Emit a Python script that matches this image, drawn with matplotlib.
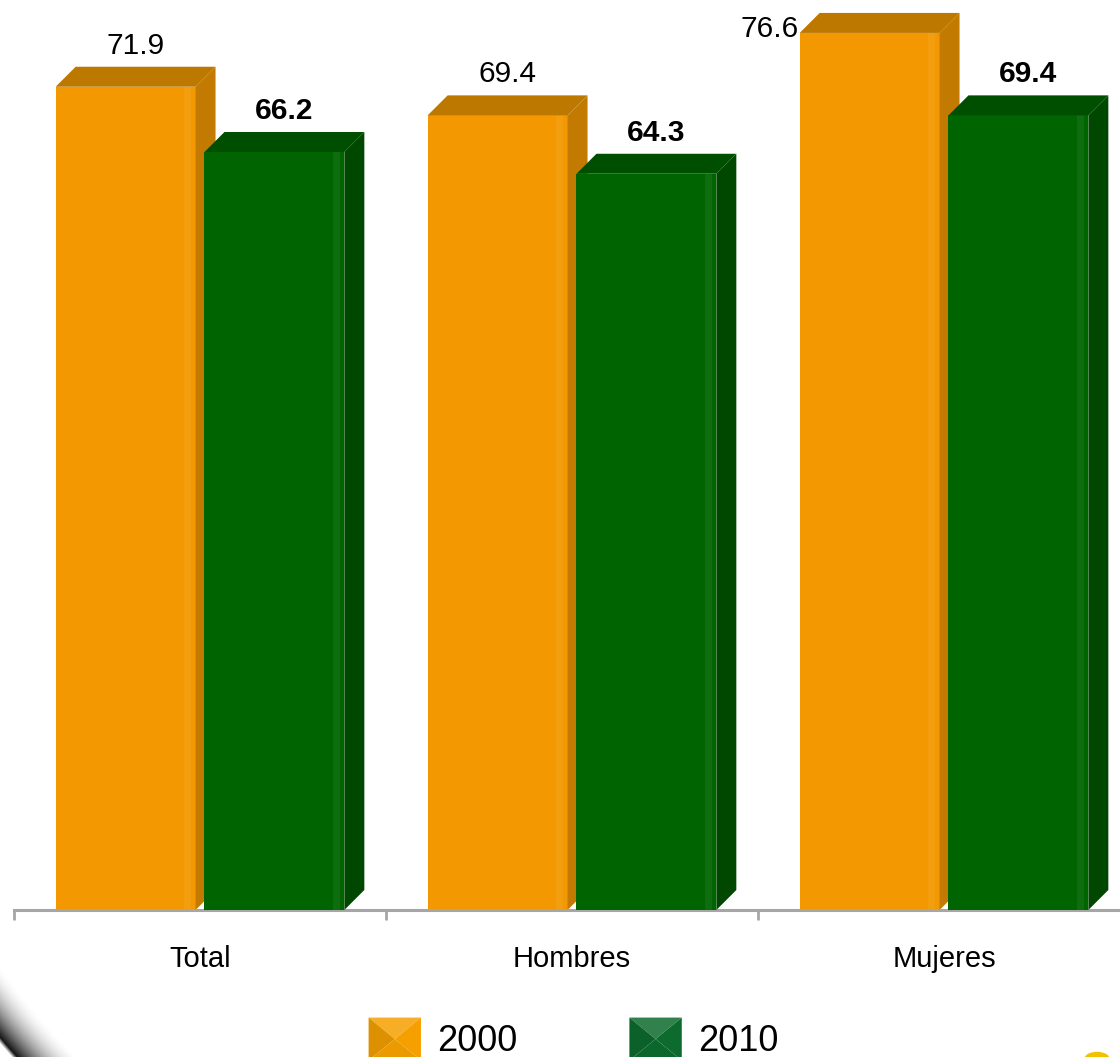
import numpy as np
import matplotlib
matplotlib.use('Agg')
import matplotlib.pyplot as plt
import matplotlib.colors as mcolors
from matplotlib.patches import Patch, Polygon, Ellipse
from matplotlib.legend_handler import HandlerBase

plt.rcParams['font.family'] = ['Liberation Sans', 'DejaVu Sans']

categories = ['Total', 'Hombres', 'Mujeres']
years = ['2000', '2010']
values_2000 = [71.9, 69.4, 76.6]
values_2010 = [66.2, 64.3, 69.4]

front_col = {'2000': '#F39800', '2010': '#006400'}
top_col = {'2000': '#BD7800', '2010': '#004F00'}
side_col = {'2000': '#C27A00', '2010': '#004800'}
legend_col = {'2000': '#F5A000', '2010': '#0D6B2E'}


def shade(c, f):
    r, g, b = mcolors.to_rgb(c)
    if f >= 1:
        return (r + (1 - r) * (f - 1), g + (1 - g) * (f - 1), b + (1 - b) * (f - 1))
    return (r * f, g * f, b * f)


class PyramidHandler(HandlerBase):
    # square legend key with bevelled look
    def create_artists(self, legend, orig_handle, xdescent, ydescent,
                       width, height, fontsize, trans):
        base = orig_handle.get_facecolor()
        x0, y0 = -xdescent, -ydescent
        x1, y1 = x0 + width, y0 + height
        cx, cy = (x0 + x1) / 2, (y0 + y1) / 2
        tris = [
            ([(x0, y1), (x1, y1), (cx, cy)], shade(base, 1.15)),
            ([(x0, y0), (x0, y1), (cx, cy)], shade(base, 0.9)),
            ([(x1, y0), (x1, y1), (cx, cy)], shade(base, 1.0)),
            ([(x0, y0), (x1, y0), (cx, cy)], shade(base, 0.96)),
        ]
        arts = []
        for pts, c in tris:
            p = Polygon(pts, closed=True, facecolor=c, edgecolor='none', transform=trans)
            arts.append(p)
        return arts


W, H = 1120, 1057
fig = plt.figure(figsize=(W / 100, H / 100), dpi=100)

# decoration layer (curved dark shadow in the corner, small yellow dot)
bg = fig.add_axes([0, 0, 1, 1], zorder=0)
bg.set_xlim(0, W)
bg.set_ylim(H, 0)
bg.axis('off')
cx, cy, R = 613, 523, 800
gx, gy = np.meshgrid(np.arange(0, 160) + 0.5, np.arange(880, H) + 0.5)
t = (R - np.hypot(gx - cx, gy - cy)) / 45.0
alpha = np.where(t >= 0, 0.92 * np.clip(1 - t, 0, 1) ** 1.8,
                 0.92 * np.clip(1 + t * 45 / 4, 0, 1))
shadow = np.zeros(gx.shape + (4,))
shadow[..., 3] = alpha
bg.imshow(shadow, extent=(0, 160, H, 880), origin='upper', interpolation='bilinear')
bg.set_xlim(0, W)
bg.set_ylim(H, 0)
bg.set_aspect('auto')
bg.add_patch(Ellipse((1097, 1059), 24, 13, color='#F2C200'))

# main chart
px_per_unit = 11.45
ax = fig.add_axes([14 / W, (H - 910) / H, 1116 / W, 910 / H], zorder=1)
ax.patch.set_alpha(0)
ymax = 910 / px_per_unit
ax.set_ylim(0, ymax)
ax.set_xlim(-0.5, 2.5)

bw = 0.376
offsets = [-0.2, 0.2]
dx = 20 / 372
dy = 20 / px_per_unit

for j, (year, vals) in enumerate(zip(years, [values_2000, values_2010])):
    xs = np.arange(len(categories)) + offsets[j]
    z = 2 + j * 2
    ax.bar(xs, vals, width=bw, color=front_col[year], zorder=z)
    for x, v in zip(xs, vals):
        x0, x1 = x - bw / 2, x + bw / 2
        # subtle highlight near the right edge of the front face
        ax.add_patch(Polygon([(x1 - 0.03, 0), (x1 - 0.03, v), (x1 - 0.012, v), (x1 - 0.012, 0)],
                             facecolor='white', alpha=0.06, edgecolor='none', zorder=z))
        ax.add_patch(Polygon([(x0, v), (x0 + dx, v + dy), (x1 + dx, v + dy), (x1, v)],
                             facecolor=top_col[year], edgecolor='none', zorder=z))
        ax.add_patch(Polygon([(x1, 0), (x1, v), (x1 + dx, v + dy), (x1 + dx, dy)],
                             facecolor=side_col[year], edgecolor='none', zorder=z))
        weight = 'bold' if year == '2010' else 'normal'
        if v + dy + 2.5 > ymax:
            ax.annotate(f'{v}', xy=(x0, v), xytext=(-1, -7), textcoords='offset points',
                        ha='right', va='bottom', fontsize=21.5, fontweight=weight,
                        annotation_clip=False)
        else:
            ax.annotate(f'{v}', xy=(x + dx / 2, v + dy), xytext=(0, 5), textcoords='offset points',
                        ha='center', va='bottom', fontsize=21.5, fontweight=weight,
                        annotation_clip=False)

for s in ['top', 'right', 'left']:
    ax.spines[s].set_visible(False)
ax.spines['bottom'].set_color('#A6A6A6')
ax.spines['bottom'].set_linewidth(2.2)
ax.set_yticks([])
ax.set_xticks(range(len(categories)))
ax.set_xticklabels(categories, fontsize=21)
ax.set_xticks(np.arange(-0.5, len(categories), 1.0), minor=True)
ax.tick_params(axis='x', which='major', length=0, pad=25)
ax.tick_params(axis='x', which='minor', length=7.5, width=2, color='#A6A6A6', direction='out')

handles = [Patch(facecolor=legend_col[y]) for y in years]
fig.legend(handles, years, handler_map={Patch: PyramidHandler()}, loc='center',
           bbox_to_anchor=(573.5 / W, (H - 1039) / H), ncol=2, fontsize=26, frameon=False,
           handlelength=1.45, handleheight=1.45, handletextpad=0.45, columnspacing=3.1)

fig.savefig('out.png', dpi=100)
